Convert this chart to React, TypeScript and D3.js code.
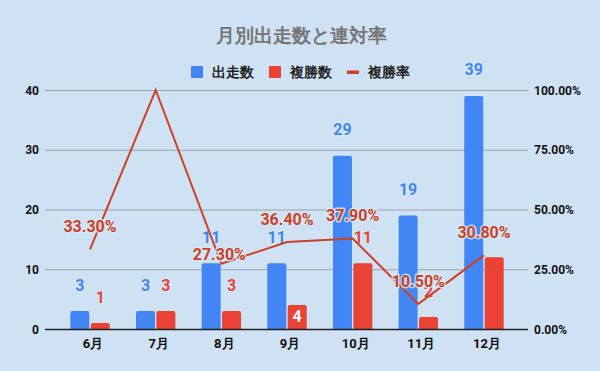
import { useEffect, useRef } from "react";
import * as d3 from "d3";

const months = ["6月", "7月", "8月", "9月", "10月", "11月", "12月"];
const starts = [3, 3, 11, 11, 29, 19, 39];
const places = [1, 3, 3, 4, 11, 2, 12];
const rates = [33.3, 100, 27.3, 36.4, 37.9, 10.5, 30.8];
const leftTicks = [0, 10, 20, 30, 40];
const rightTicks = [0, 25, 50, 75, 100];

const BG = "#cfe2f3";
const BLUE = "#4285f4";
const RED = "#ea4335";
const LINE = "#cc4125";
const FONT = "Roboto, Arial, sans-serif";

function Chart() {
  const ref = useRef<SVGSVGElement>(null);

  useEffect(() => {
    const svg = d3.select(ref.current);
    svg.selectAll("*").remove();

    const W = 600, H = 371;
    const left = 45, right = 528;

    svg.append("rect").attr("width", W).attr("height", H).attr("fill", BG);

    const x = d3.scaleBand<string>().domain(months).range([57.2, 516.8])
      .paddingInner(0.4).paddingOuter(0.2);
    const x1 = d3.scaleBand<string>().domain(["s", "p"]).range([0, x.bandwidth()]).paddingInner(0.07);
    const y = d3.scaleLinear().domain([0, 40]).range([329, 90]);
    const yr = d3.scaleLinear().domain([0, 100]).range([329, 90]);

    // title
    svg.append("text").attr("x", 301).attr("y", 42).attr("text-anchor", "middle")
      .attr("font-family", FONT).attr("font-weight", "bold").attr("font-size", 19)
      .attr("fill", "#757575").text("月別出走数と連対率");

    // legend
    const lg = svg.append("g").attr("font-family", FONT).attr("font-weight", "bold")
      .attr("font-size", 13.5).attr("fill", "#222");
    lg.append("rect").attr("x", 191).attr("y", 66).attr("width", 12).attr("height", 12).attr("fill", BLUE);
    lg.append("text").attr("x", 212).attr("y", 77).text("出走数");
    lg.append("rect").attr("x", 269).attr("y", 66).attr("width", 12).attr("height", 12).attr("fill", RED);
    lg.append("text").attr("x", 290).attr("y", 77).text("複勝数");
    lg.append("rect").attr("x", 347).attr("y", 70.5).attr("width", 12).attr("height", 3.5).attr("fill", LINE);
    lg.append("text").attr("x", 368).attr("y", 77).text("複勝率");

    // grid
    svg.append("g").selectAll("line").data(leftTicks.slice(1)).join("line")
      .attr("x1", left).attr("x2", right)
      .attr("y1", (d) => y(d) + 0.5).attr("y2", (d) => y(d) + 0.5)
      .attr("stroke", "#9aa3ad").attr("stroke-width", 1);

    svg.append("g").attr("font-family", FONT).attr("font-weight", "bold").attr("font-size", 12)
      .selectAll("text").data(leftTicks).join("text")
      .attr("x", 39).attr("y", (d) => y(d) + 4.5).attr("text-anchor", "end").attr("fill", "#111")
      .text((d) => d);

    svg.append("g").attr("font-family", FONT).attr("font-weight", "bold").attr("font-size", 12)
      .selectAll("text").data(rightTicks).join("text")
      .attr("x", 534).attr("y", (d) => yr(d) + 4.5).attr("fill", "#111")
      .text((d) => d3.format(".2f")(d) + "%");

    svg.append("g").attr("font-family", FONT).attr("font-weight", "bold").attr("font-size", 13)
      .selectAll("text").data(months).join("text")
      .attr("x", (d) => x(d)! + x.bandwidth() / 2 + 3).attr("y", 348).attr("text-anchor", "middle")
      .attr("fill", "#111").text((d) => d);

    const topRound = (x0: number, y0: number, w: number, h: number, r: number) => {
      const rr = Math.min(r, h);
      return `M${x0},${y0 + h}V${y0 + rr}Q${x0},${y0} ${x0 + rr},${y0}H${x0 + w - rr}Q${x0 + w},${y0} ${x0 + w},${y0 + rr}V${y0 + h}Z`;
    };

    // bars
    svg.append("g").selectAll("path").data(months).join("path")
      .attr("d", (m, i) => topRound(x(m)! + x1("s")!, y(starts[i]), x1.bandwidth(), y(0) - y(starts[i]), 2))
      .attr("fill", BLUE);
    svg.append("g").selectAll("path").data(months).join("path")
      .attr("d", (m, i) => topRound(x(m)! + x1("p")!, y(places[i]), x1.bandwidth(), y(0) - y(places[i]), 2))
      .attr("fill", RED);

    // baseline
    svg.append("line").attr("x1", left).attr("x2", right).attr("y1", 329.5).attr("y2", 329.5)
      .attr("stroke", "#222").attr("stroke-width", 1.5);

    const halo = (sel: d3.Selection<any, any, any, any>) =>
      sel.attr("stroke", "rgba(215,232,246,0.85)").attr("stroke-width", 3)
        .attr("paint-order", "stroke").attr("stroke-linejoin", "round");

    // bar labels
    const bl = svg.append("g").attr("font-family", FONT).attr("font-weight", "bold").attr("font-size", 16)
      .attr("text-anchor", "middle");
    bl.selectAll("text.s").data(months).join("text").attr("class", "s")
      .attr("x", (m) => x(m)! + x1("s")! + x1.bandwidth() / 2)
      .attr("y", (m, i) => y(starts[i]) - 20.5)
      .attr("fill", BLUE).text((m, i) => starts[i]).call(halo);

    // 9月 label sits inside the bar, 12月 is hidden behind the rate label
    bl.selectAll("text.p").data(months.filter((m) => m !== "12月")).join("text").attr("class", "p")
      .attr("x", (m) => x(m)! + x1("p")! + x1.bandwidth() / 2)
      .attr("y", (m) => {
        const v = places[months.indexOf(m)];
        return m === "9月" ? y(v) + 17 : y(v) - 20.5;
      })
      .attr("fill", (m) => (m === "9月" ? "#fff" : RED))
      .text((m) => places[months.indexOf(m)])
      .each(function (m) { if (m !== "9月") halo(d3.select(this)); });

    // line
    const cx = (m: string) => x(m)! + x.bandwidth() / 2;
    const line = d3.line<number>().x((d, i) => cx(months[i])).y((d) => yr(d));
    svg.append("path").datum(rates).attr("d", line).attr("fill", "none")
      .attr("stroke", LINE).attr("stroke-width", 2);

    // rate labels (100% at 7月 is dropped, 8月 moved down to clear the bar label)
    const rl = svg.append("g").attr("font-family", FONT).attr("font-weight", "bold").attr("font-size", 16)
      .attr("text-anchor", "middle");
    rl.selectAll("text").data(months.filter((m) => m !== "7月")).join("text")
      .attr("x", (m) => cx(m) - (m === "8月" ? 2 : 0))
      .attr("y", (m) => yr(rates[months.indexOf(m)]) - (m === "8月" ? 4 : 17))
      .attr("fill", LINE)
      .text((m) => rates[months.indexOf(m)].toFixed(2) + "%")
      .call(halo);
  }, []);

  return (
    <svg ref={ref} width={600} height={371}
      style={{ display: "block", position: "fixed", left: 0, top: 0 }} />
  );
}

export default function App() {
  return <Chart />;
}
